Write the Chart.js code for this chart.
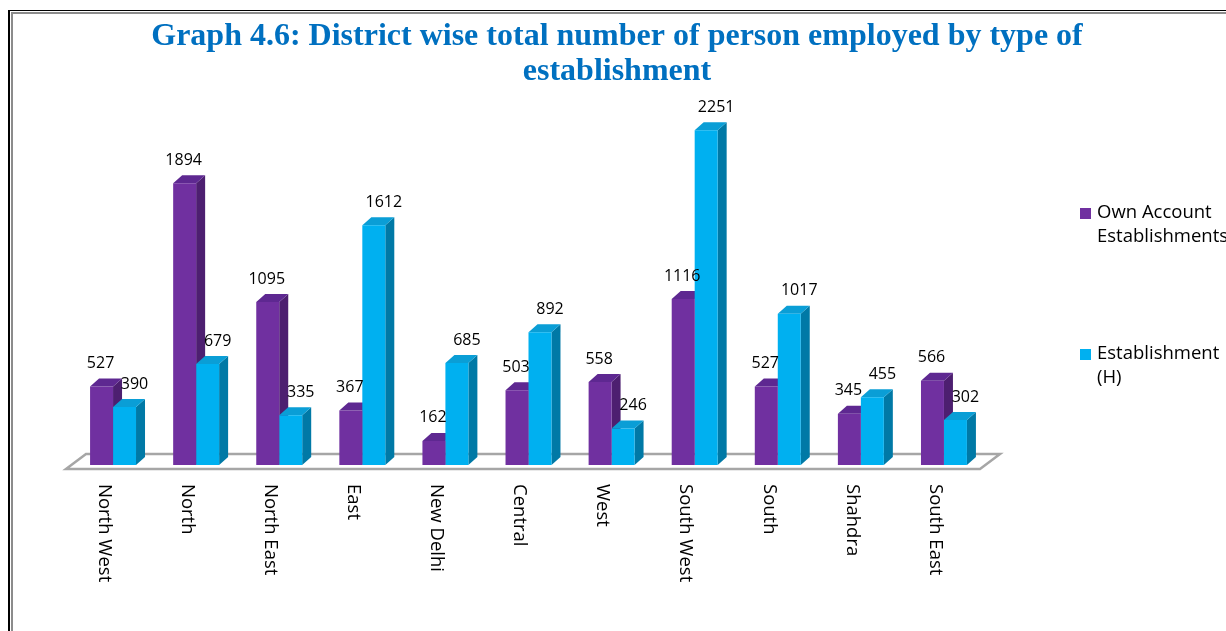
<!DOCTYPE html>
<html>
<head>
<meta charset="utf-8">
<script src="https://cdn.jsdelivr.net/npm/chart.js@4.4.1/dist/chart.umd.min.js"></script>
<style>
  html, body { margin: 0; padding: 0; background: #fff; }
  #wrap { position: relative; width: 1226px; height: 631px; overflow: hidden; }
  #myChart { position: absolute; left: 0; top: 0; }
  .ln { position: absolute; }
</style>
</head>
<body>
<div id="wrap">
  <canvas id="myChart" width="1226" height="631"></canvas>
  <div class="ln" style="left:8px;top:10px;width:2px;height:621px;background:#000"></div>
  <div class="ln" style="left:8px;top:10px;width:1218px;height:1px;background:#000"></div>
  <div class="ln" style="left:11px;top:12px;width:2px;height:619px;background:#8c8c8c"></div>
  <div class="ln" style="left:11px;top:12px;width:1215px;height:2px;background:#8c8c8c"></div>
</div>
<script>
const districts = ['North West', 'North', 'North East', 'East', 'New Delhi', 'Central', 'West', 'South West', 'South', 'Shahdra', 'South East']
const ownAccount = [527, 1894, 1095, 367, 162, 503, 558, 1116, 527, 345, 566]
const establishmentH = [390, 679, 335, 1612, 685, 892, 246, 2251, 1017, 455, 302]
const seriesNames = [['Own Account', 'Establishments'], ['Establishment', '(H)']]
const titleLines = ['Graph 4.6: District wise total number of person employed by type of', 'establishment']

const DX = 9, DY = 8
const fronts = ['#7030A0', '#00B0F0']
const sides = ['#4D1F70', '#0079A6']
const tops = ['#5E2891', '#0A9ED6']
const labelShift = [-1, 10]
const FONT = '"Open Sans", sans-serif'

// draws the floor plus the side/top faces of every bar, behind the fronts
const threeD = {
    id: 'threeD',
    beforeDatasetsDraw(chart) {
        const ctx = chart.ctx
        const a = chart.chartArea
        ctx.save()
        ctx.beginPath()
        ctx.moveTo(a.left - 5.5, a.bottom + 4)
        ctx.lineTo(a.right - 5.5, a.bottom + 4)
        ctx.lineTo(a.right + 14.5, a.bottom - 11)
        ctx.lineTo(a.left + 14.5, a.bottom - 11)
        ctx.closePath()
        ctx.fillStyle = '#fff'
        ctx.fill()
        ctx.lineWidth = 2.5
        ctx.strokeStyle = '#a6a6a6'
        ctx.stroke()

        chart.data.datasets.forEach((ds, i) => {
            chart.getDatasetMeta(i).data.forEach(bar => {
                const l = bar.x - bar.width / 2
                const r = bar.x + bar.width / 2
                ctx.fillStyle = sides[i]
                ctx.beginPath()
                ctx.moveTo(r, bar.y)
                ctx.lineTo(r + DX, bar.y - DY)
                ctx.lineTo(r + DX, bar.base - DY)
                ctx.lineTo(r, bar.base)
                ctx.closePath()
                ctx.fill()
                ctx.fillStyle = tops[i]
                ctx.beginPath()
                ctx.moveTo(l, bar.y)
                ctx.lineTo(l + DX, bar.y - DY)
                ctx.lineTo(r + DX, bar.y - DY)
                ctx.lineTo(r, bar.y)
                ctx.closePath()
                ctx.fill()
            })
        })
        ctx.restore()
    },
    afterDatasetsDraw(chart) {
        const ctx = chart.ctx
        const a = chart.chartArea
        ctx.save()
        // value labels
        ctx.fillStyle = '#000'
        ctx.font = '16px ' + FONT
        ctx.textAlign = 'center'
        ctx.textBaseline = 'middle'
        chart.data.datasets.forEach((ds, i) => {
            chart.getDatasetMeta(i).data.forEach((bar, j) => {
                ctx.fillText(String(ds.data[j]), bar.x + labelShift[i], bar.y - 23)
            })
        })
        // category labels, rotated clockwise
        const xs = chart.scales.x
        ctx.font = '18.5px ' + FONT
        ctx.textAlign = 'left'
        districts.forEach((d, j) => {
            ctx.save()
            ctx.translate(xs.getPixelForTick(j) - 9, a.bottom + 19)
            ctx.rotate(Math.PI / 2)
            ctx.fillText(d, 0, 0)
            ctx.restore()
        })
        // title
        ctx.fillStyle = '#0070C0'
        ctx.font = 'bold 32px "Liberation Serif", "Times New Roman", serif'
        ctx.textAlign = 'center'
        titleLines.forEach((t, k) => ctx.fillText(t, 617, 37 + k * 35))
        // legend
        const legY = [213, 354]
        ctx.font = '18.5px ' + FONT
        ctx.textAlign = 'left'
        seriesNames.forEach((lines, i) => {
            ctx.fillStyle = fronts[i]
            ctx.fillRect(1080, legY[i] - 5, 11, 11)
            ctx.fillStyle = '#000'
            lines.forEach((t, k) => ctx.fillText(t, 1097, legY[i] + k * 24))
        })
        ctx.restore()
    }
}

new Chart(document.getElementById('myChart'), {
    type: 'bar',
    data: {
        labels: districts,
        datasets: [{
            label: seriesNames[0].join(' '),
            data: ownAccount,
            backgroundColor: fronts[0],
            borderWidth: 0
        }, {
            label: seriesNames[1].join(' '),
            data: establishmentH,
            backgroundColor: fronts[1],
            borderWidth: 0
        }]
    },
    options: {
        responsive: false,
        animation: false,
        devicePixelRatio: 1,
        layout: {
            padding: { left: 71.5, right: 240.5, top: 108, bottom: 166 }
        },
        datasets: {
            bar: { barPercentage: 1, categoryPercentage: 0.553 }
        },
        scales: {
            x: { display: false },
            y: { display: false, min: 0, max: 2400 }
        },
        plugins: {
            legend: { display: false },
            title: { display: false },
            tooltip: { enabled: false }
        }
    },
    plugins: [threeD]
})
</script>
</body>
</html>
